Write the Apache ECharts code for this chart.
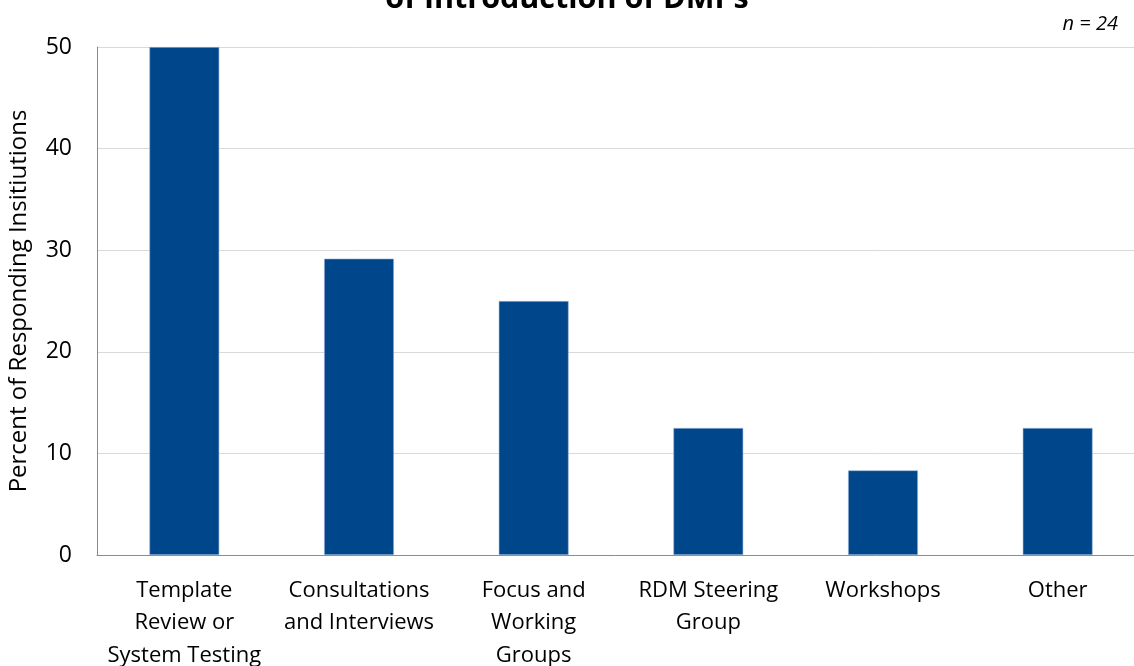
<!DOCTYPE html>
<html>
<head>
<meta charset="utf-8">
<script src="https://cdn.jsdelivr.net/npm/echarts@6/dist/echarts.min.js"></script>
<style>
  html, body { margin: 0; padding: 0; background: #fff; }
  #chart { width: 1134px; height: 666px; }
</style>
</head>
<body>
<div id="chart"></div>
<script>
// categories and values (percent of 24 responding institutions)
const categories = [
  'Template\nReview or\nSystem Testing',
  'Consultations\nand Interviews',
  'Focus and\nWorking\nGroups',
  'RDM Steering\nGroup',
  'Workshops',
  'Other'
];
const percents = [50, 29.17, 25, 12.5, 8.33, 12.5];
const yTicks = [0, 10, 20, 30, 40, 50];

const font = '"Open Sans", "Liberation Sans", sans-serif';
const chart = echarts.init(document.getElementById('chart'));

chart.setOption({
  animation: false,
  title: {
    text: 'of Introduction of DMPs',
    left: 'center',
    top: -21,
    textStyle: { fontFamily: font, fontWeight: 'bold', fontSize: 30.5, color: '#000' }
  },
  graphic: [{
    type: 'text',
    right: 16,
    top: 14,
    style: { text: 'n = 24', font: 'italic 20px ' + font, fill: '#000' }
  }],
  grid: { left: 97, right: -11, top: 47, bottom: 111, containLabel: false, outerBoundsMode: 'none' },
  xAxis: {
    type: 'category',
    data: categories,
    axisLine: { lineStyle: { color: '#8c8c8c', width: 1 } },
    axisTick: { show: false },
    axisLabel: {
      interval: 0,
      margin: 19,
      color: '#000',
      fontFamily: font,
      fontSize: 22,
      lineHeight: 32.5,
      verticalAlign: 'top'
    }
  },
  yAxis: {
    type: 'value',
    min: yTicks[0],
    max: yTicks[yTicks.length - 1],
    interval: 10,
    name: 'Percent of Responding Insitiutions',
    nameLocation: 'middle',
    nameGap: 66,
    nameTextStyle: { fontFamily: font, fontSize: 24, color: '#000' },
    axisLine: { show: true, lineStyle: { color: '#8c8c8c', width: 1 } },
    axisTick: { show: false },
    splitLine: { lineStyle: { color: '#d9d9d9', width: 1 } },
    axisLabel: { color: '#000', fontFamily: font, fontSize: 23, margin: 25 }
  },
  series: [{
    type: 'bar',
    data: percents,
    barWidth: '40%',
    itemStyle: { color: '#00468a', borderColor: '#9fbbe0', borderWidth: 0.6 }
  }]
});
</script>
</body>
</html>
